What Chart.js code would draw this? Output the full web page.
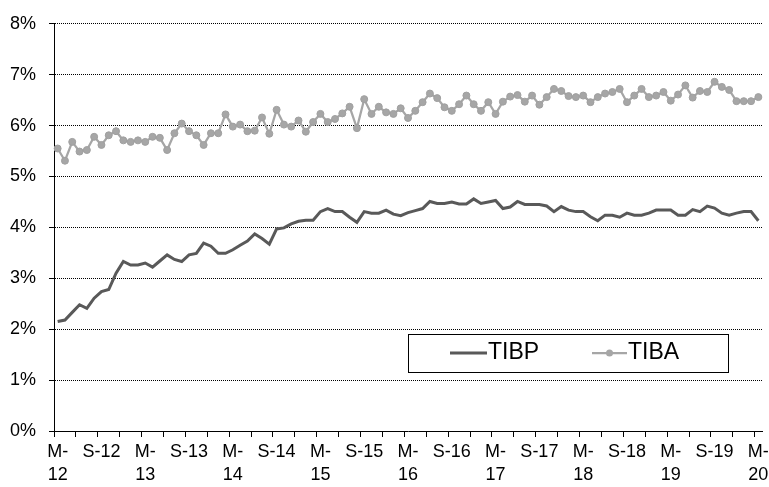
<!DOCTYPE html>
<html>
<head>
<meta charset="utf-8">
<script src="https://cdn.jsdelivr.net/npm/chart.js@4"></script>
<style>
  html, body { margin: 0; padding: 0; background: #fff; }
  #wrap { width: 769px; height: 487px; position: relative; }
</style>
</head>
<body>
<div id="wrap"><canvas id="c"></canvas></div>
<script>
// Monthly categories, March 2012 to March 2020
const categories = [
  '2012-03','2012-04','2012-05','2012-06','2012-07','2012-08','2012-09','2012-10','2012-11','2012-12',
  '2013-01','2013-02','2013-03','2013-04','2013-05','2013-06','2013-07','2013-08','2013-09','2013-10','2013-11','2013-12',
  '2014-01','2014-02','2014-03','2014-04','2014-05','2014-06','2014-07','2014-08','2014-09','2014-10','2014-11','2014-12',
  '2015-01','2015-02','2015-03','2015-04','2015-05','2015-06','2015-07','2015-08','2015-09','2015-10','2015-11','2015-12',
  '2016-01','2016-02','2016-03','2016-04','2016-05','2016-06','2016-07','2016-08','2016-09','2016-10','2016-11','2016-12',
  '2017-01','2017-02','2017-03','2017-04','2017-05','2017-06','2017-07','2017-08','2017-09','2017-10','2017-11','2017-12',
  '2018-01','2018-02','2018-03','2018-04','2018-05','2018-06','2018-07','2018-08','2018-09','2018-10','2018-11','2018-12',
  '2019-01','2019-02','2019-03','2019-04','2019-05','2019-06','2019-07','2019-08','2019-09','2019-10','2019-11','2019-12',
  '2020-01','2020-02','2020-03'
];

// Axis labels shown every 6 months (March / September)
const tickLabels = [
  ['M-','12'],'S-12',['M-','13'],'S-13',['M-','14'],'S-14',['M-','15'],'S-15',
  ['M-','16'],'S-16',['M-','17'],'S-17',['M-','18'],'S-18',['M-','19'],'S-19',['M-','20']
];

const yTicks = [0,1,2,3,4,5,6,7,8];

const seriesNames = ['TIBP','TIBA'];

const tibp = [
  2.15,2.18,2.33,2.48,2.41,2.61,2.74,2.78,3.10,3.33,
  3.26,3.26,3.30,3.22,3.34,3.46,3.37,3.33,3.46,3.49,
  3.69,3.63,3.49,3.49,3.56,3.65,3.73,3.87,3.78,3.67,
  3.97,3.99,4.07,4.12,4.14,4.14,4.31,4.37,4.31,4.31,
  4.20,4.10,4.31,4.28,4.28,4.34,4.26,4.23,4.29,4.33,
  4.37,4.51,4.47,4.47,4.50,4.46,4.46,4.56,4.47,4.50,
  4.53,4.37,4.40,4.51,4.45,4.45,4.45,4.42,4.31,4.41,
  4.34,4.31,4.31,4.21,4.13,4.24,4.24,4.20,4.28,4.24,
  4.24,4.28,4.34,4.34,4.34,4.24,4.24,4.35,4.31,4.42,
  4.38,4.28,4.24,4.28,4.31,4.31,4.13
];

const tiba = [
  5.55,5.31,5.68,5.49,5.52,5.78,5.62,5.81,5.89,5.71,
  5.68,5.71,5.68,5.78,5.76,5.52,5.85,6.04,5.89,5.81,
  5.62,5.85,5.85,6.22,5.98,6.02,5.89,5.90,6.16,5.84,
  6.31,6.02,5.98,6.10,5.88,6.07,6.23,6.07,6.13,6.24,
  6.37,5.95,6.52,6.23,6.37,6.26,6.23,6.34,6.15,6.29,
  6.46,6.63,6.54,6.36,6.29,6.42,6.59,6.42,6.29,6.46,
  6.23,6.47,6.57,6.60,6.47,6.59,6.41,6.56,6.72,6.68,
  6.58,6.56,6.59,6.46,6.56,6.63,6.66,6.72,6.46,6.59,
  6.72,6.56,6.59,6.66,6.49,6.61,6.79,6.55,6.68,6.66,
  6.86,6.76,6.70,6.48,6.48,6.48,6.56
];

const FONT = "'Liberation Sans', Arial, sans-serif";

const boxLegend = {
  id: 'boxLegend',
  afterDraw(chart) {
    const ctx = chart.ctx;
    const bx = 408.5, by = 334.5, bw = 320, bh = 38;
    ctx.save();
    ctx.fillStyle = '#fff';
    ctx.fillRect(bx, by, bw, bh);
    ctx.strokeStyle = '#000';
    ctx.lineWidth = 1;
    ctx.strokeRect(bx, by, bw, bh);
    const items = [
      { ds: chart.data.datasets[0], x1: 450, x2: 487, tx: 488 },
      { ds: chart.data.datasets[1], x1: 592, x2: 627, tx: 628 }
    ];
    const ly = 353;
    ctx.font = '23px ' + FONT;
    ctx.textBaseline = 'alphabetic';
    ctx.textAlign = 'left';
    items.forEach(it => {
      ctx.strokeStyle = it.ds.borderColor;
      ctx.lineWidth = it.ds.borderWidth;
      ctx.beginPath();
      ctx.moveTo(it.x1, ly);
      ctx.lineTo(it.x2, ly);
      ctx.stroke();
      if (it.ds.pointRadius > 0) {
        ctx.fillStyle = it.ds.pointBackgroundColor;
        ctx.beginPath();
        ctx.arc((it.x1 + it.x2) / 2, ly, it.ds.pointRadius, 0, Math.PI * 2);
        ctx.fill();
      }
      ctx.fillStyle = '#000';
      ctx.fillText(it.ds.label, it.tx, 358.5);
    });
    ctx.restore();
  }
};

new Chart(document.getElementById('c'), {
  type: 'line',
  data: {
    labels: categories,
    datasets: [
      {
        label: seriesNames[0],
        data: tibp,
        borderColor: '#595959',
        backgroundColor: '#595959',
        borderWidth: 3,
        pointRadius: 0,
        pointHoverRadius: 0,
        tension: 0,
        fill: false
      },
      {
        label: seriesNames[1],
        data: tiba,
        borderColor: '#A6A6A6',
        backgroundColor: '#A6A6A6',
        borderWidth: 2.25,
        pointRadius: 3.5,
        pointBorderWidth: 1,
        pointBackgroundColor: '#A6A6A6',
        pointBorderColor: '#A0A0A0',
        pointHoverRadius: 3.5,
        tension: 0,
        fill: false
      }
    ]
  },
  options: {
    responsive: true,
    maintainAspectRatio: false,
    animation: false,
    devicePixelRatio: 1,
    layout: { padding: { left: 0, right: 7, top: 20, bottom: 0 } },
    plugins: {
      legend: { display: false },
      tooltip: { enabled: false }
    },
    scales: {
      x: {
        type: 'category',
        offset: true,
        afterFit: (scale) => { scale.height = 56; scale.paddingLeft = 0; scale.paddingRight = 0; },
        grid: {
          offset: true,
          drawOnChartArea: false,
          drawTicks: true,
          tickLength: 6,
          tickWidth: 1,
          tickBorderDash: [],
          color: 'rgba(0,0,0,0)',
          tickColor: (c) => (c.index % 3 === 0 && c.index <= 96) ? '#000' : 'rgba(0,0,0,0)'
        },
        border: { display: true, color: '#000', width: 1 },
        ticks: {
          autoSkip: false,
          maxRotation: 0,
          minRotation: 0,
          padding: 4,
          color: '#000',
          font: { family: FONT, size: 18, lineHeight: 1.25 },
          callback: function (value, index) {
            return index % 6 === 0 ? tickLabels[index / 6] : '';
          }
        }
      },
      y: {
        type: 'linear',
        min: yTicks[0],
        max: yTicks[yTicks.length - 1],
        afterBuildTicks: (scale) => { scale.ticks = yTicks.map(v => ({ value: v })); },
        afterFit: (scale) => { scale.width = 54; },
        grid: {
          color: '#000',
          lineWidth: 1,
          borderDash: [1, 1],
          drawTicks: true,
          tickLength: 5,
          tickColor: '#000',
          tickBorderDash: []
        },
        border: { display: true, color: '#000', width: 1, dash: [1, 1] },
        ticks: {
          padding: 13,
          color: '#000',
          font: { family: FONT, size: 18 },
          callback: (v) => v + '%'
        }
      }
    }
  },
  plugins: [boxLegend]
});
</script>
</body>
</html>
